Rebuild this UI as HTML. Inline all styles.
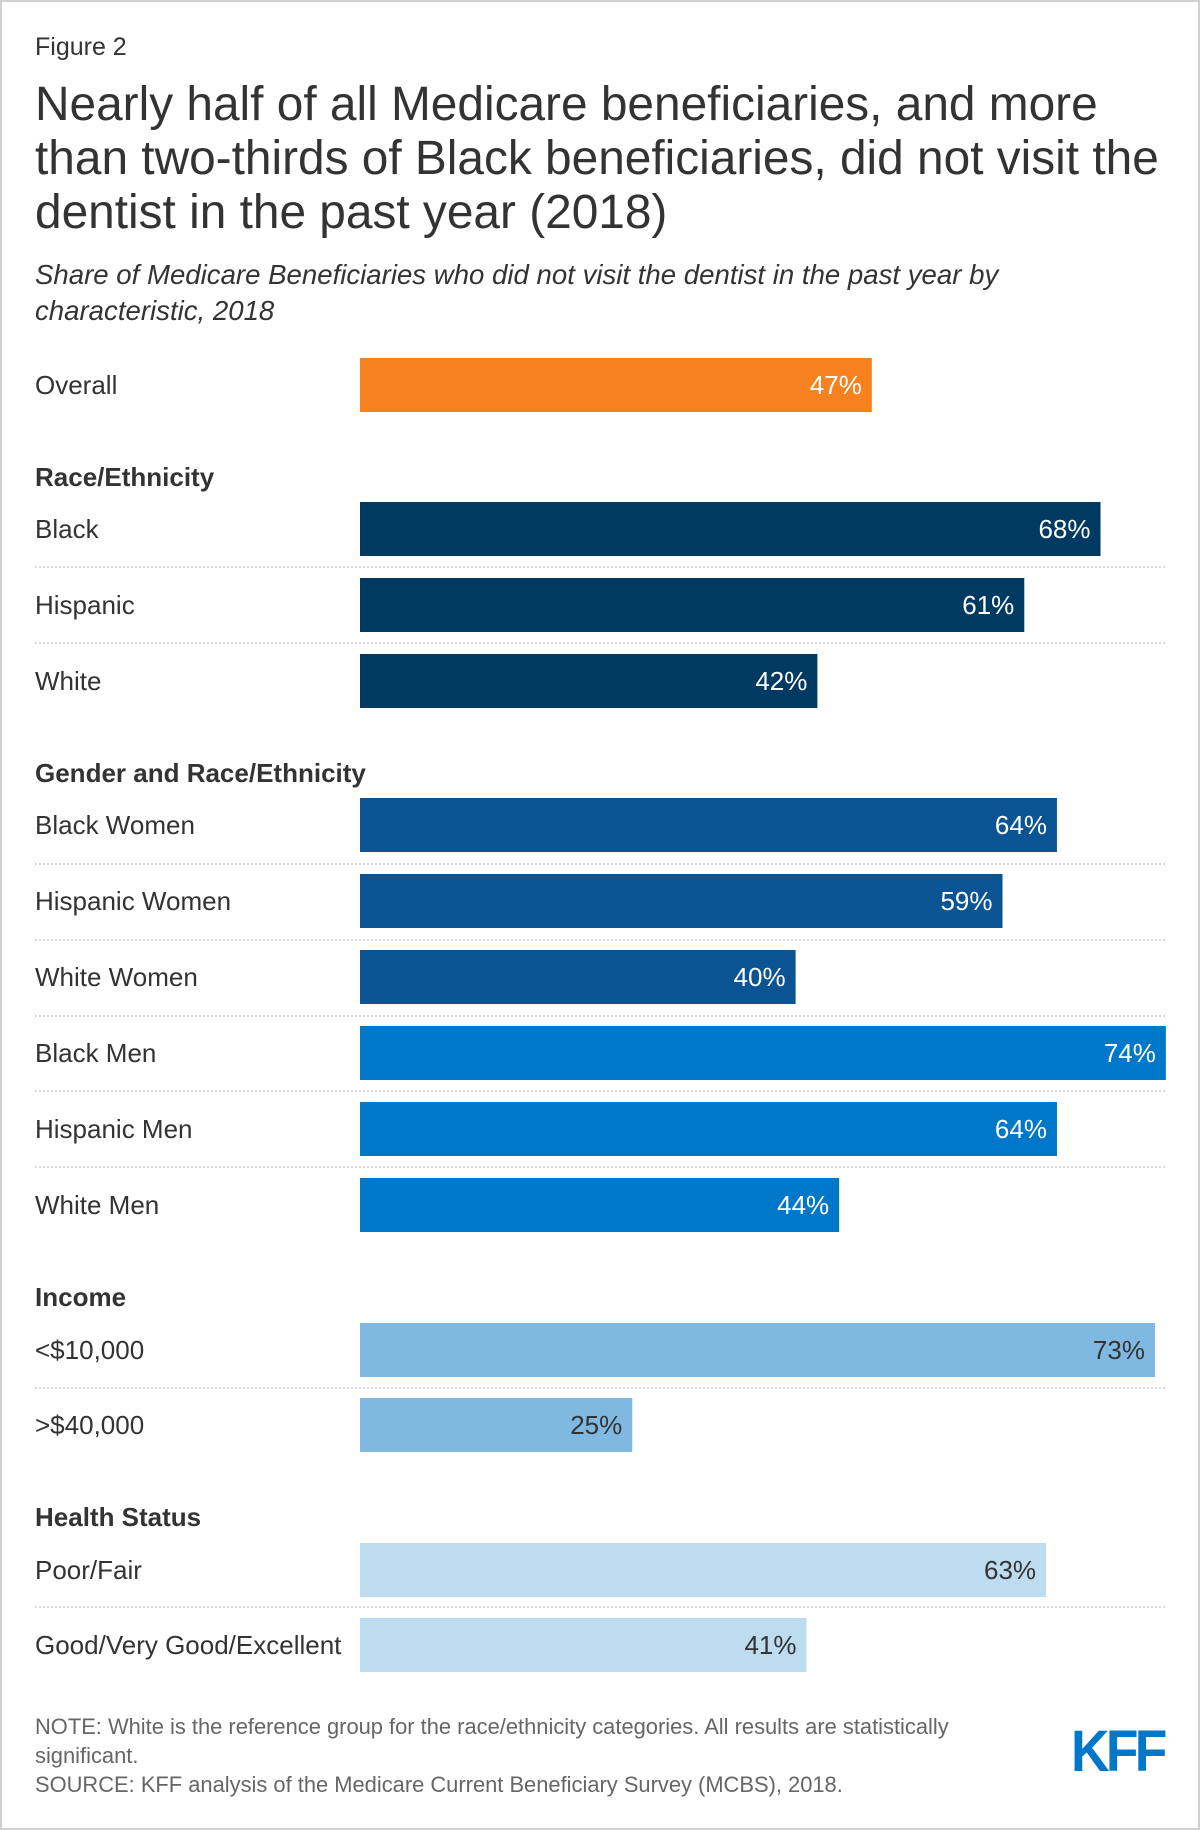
<!DOCTYPE html>
<html><head><meta charset="utf-8"><style>
body{margin:0;width:1200px;height:1830px;background:#fff;font-family:"Liberation Sans",Arial,sans-serif;color:#333;overflow:hidden}
#frame{position:absolute;left:0;top:0;width:1196px;height:1826px;border:2px solid #d0d0d0}
.t{position:absolute;left:35px;white-space:nowrap}
</style></head><body>
<div id="frame"></div>
<div class="t" style="top:33px;font-size:25px">Figure 2</div>
<div class="t" style="top:78px;font-size:47.8px;line-height:54px">Nearly half of all Medicare beneficiaries, and more<br>than two-thirds of Black beneficiaries, did not visit the<br>dentist in the past year (2018)</div>
<div class="t" style="top:257px;font-size:27.6px;line-height:36px;font-style:italic">Share of Medicare Beneficiaries who did not visit the dentist in the past year by<br>characteristic, 2018</div>
<svg id="chart" width="1200" height="1830" style="position:absolute;left:0;top:0"></svg>
<div class="t" style="top:1712px;font-size:21.9px;line-height:29px;color:#666">NOTE: White is the reference group for the race/ethnicity categories. All results are statistically<br>significant.<br>SOURCE: KFF analysis of the Medicare Current Beneficiary Survey (MCBS), 2018.</div>
<div style="position:absolute;left:1071px;top:1718px;font-size:58px;font-weight:bold;color:#0077c8;letter-spacing:-4px;transform:scaleX(0.92);transform-origin:left">KFF</div>
<script>
const categories=["Overall","Black","Hispanic","White","Black Women","Hispanic Women","White Women","Black Men","Hispanic Men","White Men","<$10,000",">$40,000","Poor/Fair","Good/Very Good/Excellent"];
const values=[47,68,61,42,64,59,40,74,64,44,73,25,63,41];
const groups=["overall","race","race","race","gender","gender","gender","gender","gender","gender","income","income","health","health"];
const headers=["Race/Ethnicity","Gender and Race/Ethnicity","Income","Health Status"];
const rowY=[385,529,605,681,825,901,977,1053,1129,1205,1350,1425,1570,1645];
const headerY=[477,773,1297,1517];
const seps=[567,643,864,940,1016,1091,1167,1388,1607];
const colors=["#f5821f","#003a63","#003a63","#003a63","#0a5493","#0a5493","#0a5493","#0077c8","#0077c8","#0077c8","#7fb9e1","#7fb9e1","#bddcf0","#bddcf0"];
const x0=360,pxPer=10.89,bh=54;
const xs=v=>x0+v*pxPer;
const svg=document.getElementById('chart');
const NS="http://www.w3.org/2000/svg";
function mk(t,a){const e=document.createElementNS(NS,t);for(const k in a)e.setAttribute(k,a[k]);svg.appendChild(e);return e;}
seps.forEach(y=>{const l=mk('line',{x1:35,x2:1165,y1:y,y2:y,stroke:'#ccc','stroke-width':1.5,'stroke-dasharray':'2,2'});

});
headers.forEach((h,i)=>{const t=mk('text',{x:35,y:headerY[i]+9,'font-size':26,'font-weight':'bold',fill:'#333'});t.textContent=h;

});
categories.forEach((c,i)=>{
const y=rowY[i];
const lab=mk('text',{x:35,y:y+9,'font-size':26,fill:'#333'});lab.textContent=c;


const r=mk('rect',{x:x0,y:y-bh/2,width:xs(values[i])-x0,height:bh,fill:colors[i]});


const light=i>=10;
const v=mk('text',{x:xs(values[i])-10,y:y+9,'font-size':26,fill:light?'#333':'#fff','text-anchor':'end'});v.textContent=values[i]+'%';


});
</script>
</body></html>
